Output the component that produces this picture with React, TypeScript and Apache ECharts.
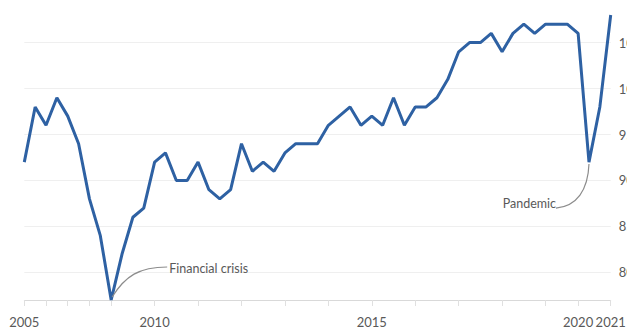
import React, { useEffect, useRef } from "react";
import * as echarts from "echarts";

// Index values (one point per period)
const values: number[] = [
  92, 98, 96, 99, 97, 94, 88, 84, 77, 82,
  86, 87, 92, 93, 90, 90, 92, 89, 88, 89,
  94, 91, 92, 91, 93, 94, 94, 94, 96, 97,
  98, 96, 97, 96, 99, 96, 98, 98, 99, 101,
  104, 105, 105, 106, 104, 106, 107, 106, 107, 107,
  107, 106, 92, 98, 108,
];

// X tick labels: which period index carries which year label
const xLabelIndex: number[] = [0, 12, 32, 51, 54];
const xLabelText: string[] = ["2005", "2010", "2015", "2020", "2021"];
// Periods carrying a tick mark
const xTickIndex: number[] = [0, 2, 4, 6, 8, 12, 16, 20, 24, 28, 32, 36, 40, 44, 48, 51, 54];

// Y axis
const yMin = 77;
const yMax = 108;
const yTicks: number[] = [80, 85, 90, 95, 100, 105];

// Annotations
const annotationText: string[] = ["Financial crisis", "Pandemic"];
const annotationIndex: number[] = [8, 52];

const categories = values.map((_, i) => String(i));

const LINE_COLOR = "#2e61a3";
const TEXT_COLOR = "#595959";
const FONT = "Lato, 'Open Sans', sans-serif";

export default function App() {
  const ref = useRef<HTMLDivElement>(null);

  useEffect(() => {
    if (!ref.current) return;
    const chart = echarts.init(ref.current, undefined, { renderer: "svg" });
    chart.setOption({
      animation: false,
      grid: {
        left: 24.3,
        right: 16.3,
        top: 15,
        bottom: 27,
        containLabel: false,
        outerBoundsMode: "none",
      },
      xAxis: {
        type: "category",
        data: categories,
        boundaryGap: false,
        axisLine: { show: true, lineStyle: { color: "#d9d9d9", width: 1 } },
        axisTick: {
          show: true,
          length: 6,
          lineStyle: { color: "#e0e0e0" },
          interval: (i: number) => xTickIndex.includes(i),
        },
        axisLabel: {
          show: true,
          margin: 15,
          color: TEXT_COLOR,
          fontSize: 13,
          fontFamily: FONT,
          hideOverlap: false,
          interval: (i: number) => xLabelIndex.includes(i),
          formatter: (_v: string, i: number) => {
            const k = xLabelIndex.indexOf(i);
            return k >= 0 ? xLabelText[k] : "";
          },
        },
        splitLine: { show: false },
      },
      yAxis: {
        type: "value",
        position: "right",
        min: yMin,
        max: yMax,
        axisLine: { show: false },
        axisTick: { show: false, customValues: yTicks },
        axisLabel: {
          show: true,
          customValues: yTicks,
          margin: 8,
          color: TEXT_COLOR,
          fontSize: 13,
          fontFamily: FONT,
          align: "left",
        },
        splitLine: { show: true, lineStyle: { color: "#efefef", width: 1 } },
      },
      series: [
        {
          type: "line",
          data: values,
          symbol: "none",
          lineStyle: { color: LINE_COLOR, width: 3 },
          z: 3,
        },
      ],
    });

    const pt = (k: number) =>
      chart.convertToPixel({ xAxisIndex: 0, yAxisIndex: 0 }, [
        annotationIndex[k],
        values[annotationIndex[k]],
      ]) as number[];

    const a = pt(0);
    const b = pt(1);

    chart.setOption({
      graphic: [
        {
          type: "bezierCurve",
          shape: {
            x1: a[0] + 1,
            y1: a[1] - 3,
            cpx1: a[0] + 14,
            cpy1: a[1] - 24,
            cpx2: a[0] + 28,
            cpy2: a[1] - 33,
            x2: a[0] + 56,
            y2: a[1] - 33,
          },
          style: { stroke: "#8c8c8c", lineWidth: 1.2, fill: "none" },
          z: 10,
        },
        {
          type: "text",
          x: a[0] + 58,
          y: a[1] - 32,
          style: {
            text: annotationText[0],
            fill: TEXT_COLOR,
            fontSize: 12.5,
            fontFamily: FONT,
            align: "left",
            verticalAlign: "middle",
          },
          z: 10,
        },
        {
          type: "bezierCurve",
          shape: {
            x1: b[0],
            y1: b[1] + 2,
            cpx1: b[0] - 1,
            cpy1: b[1] + 28,
            cpx2: b[0] - 12,
            cpy2: b[1] + 44,
            x2: b[0] - 33,
            y2: b[1] + 46,
          },
          style: { stroke: "#8c8c8c", lineWidth: 1.2, fill: "none" },
          z: 10,
        },
        {
          type: "text",
          x: b[0] - 33,
          y: b[1] + 41,
          style: {
            text: annotationText[1],
            fill: TEXT_COLOR,
            fontSize: 12.5,
            fontFamily: FONT,
            align: "right",
            verticalAlign: "middle",
          },
          z: 10,
        },
      ],
    });

    return () => chart.dispose();
  }, []);

  return (
    <div
      ref={ref}
      style={{ position: "fixed", left: 0, top: 0, width: 627, height: 327, background: "#ffffff" }}
    />
  );
}
